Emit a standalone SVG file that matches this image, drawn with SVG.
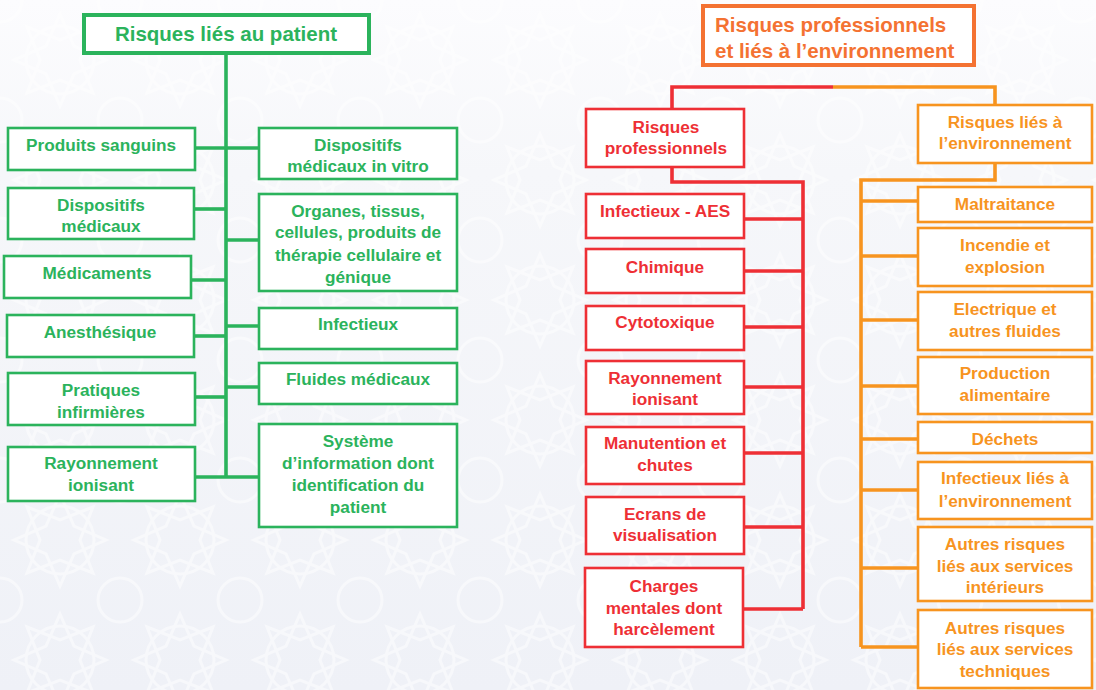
<svg xmlns="http://www.w3.org/2000/svg" width="1096" height="690" viewBox="0 0 1096 690">
<defs>
<linearGradient id="bg" x1="0" y1="0" x2="0" y2="1">
<stop offset="0" stop-color="#fcfcfe"/>
<stop offset="0.25" stop-color="#f6f7fa"/>
<stop offset="1" stop-color="#eff1f7"/>
</linearGradient>
<pattern id="geo" width="120" height="120" patternUnits="userSpaceOnUse">
<g fill="none" stroke="#ffffff" stroke-width="3" opacity="0.8">
<circle cx="60" cy="60" r="34"/>
<path d="M60 14 L74 46 L106 60 L74 74 L60 106 L46 74 L14 60 L46 46 Z"/>
<path d="M27 27 L60 40 L93 27 L80 60 L93 93 L60 80 L27 93 L40 60 Z"/>
<circle cx="0" cy="0" r="22"/><circle cx="120" cy="0" r="22"/><circle cx="0" cy="120" r="22"/><circle cx="120" cy="120" r="22"/>
</g>
</pattern>
<style>
.t{font-family:"Liberation Sans",Arial,sans-serif;font-weight:bold;font-size:17.2px;text-anchor:middle}
.g{fill:#2bb35c}.r{fill:#ee2f35}.o{fill:#f7941f}
.bg{fill:#ffffff;stroke:#2bb35c;stroke-width:2.6}
.br{fill:#ffffff;stroke:#ee2f35;stroke-width:2.6}
.bo{fill:#ffffff;stroke:#f7941f;stroke-width:2.6}
.cg{stroke:#2bb35c;stroke-width:3.6;fill:none}
.cr{stroke:#ee2f35;stroke-width:3.6;fill:none}
.co{stroke:#f7941f;stroke-width:3.6;fill:none}
</style>
</defs>
<rect x="0" y="0" width="1096" height="690" fill="url(#bg)"/>
<rect x="0" y="0" width="1096" height="690" fill="url(#geo)" opacity="0.6"/>

<g id="connectors">
<path class="cg" d="M226 54 V478"/>
<path class="cg" d="M195 148 H259"/>
<path class="cg" d="M194 209 H226"/>
<path class="cg" d="M226 240 H259"/>
<path class="cg" d="M191 280 H226"/>
<path class="cg" d="M194 336 H226"/>
<path class="cg" d="M226 326 H259"/>
<path class="cg" d="M195 397 H226"/>
<path class="cg" d="M226 387 H259"/>
<path class="cg" d="M195 477 H259"/>

<path class="cr" d="M833 87 H672 V109"/>
<path class="co" d="M833 87 H995 V105"/>
<path class="cr" d="M672 167 V182 H803 V609"/>
<path class="cr" d="M744 219 H803"/>
<path class="cr" d="M744 271 H803"/>
<path class="cr" d="M744 327 H803"/>
<path class="cr" d="M744 387 H803"/>
<path class="cr" d="M744 453 H803"/>
<path class="cr" d="M744 527 H803"/>
<path class="cr" d="M743 609 H803"/>

<path class="co" d="M995 163 V180 H861 V647"/>
<path class="co" d="M861 201 H917"/>
<path class="co" d="M861 256 H917"/>
<path class="co" d="M861 320 H917"/>
<path class="co" d="M861 386 H917"/>
<path class="co" d="M861 439 H917"/>
<path class="co" d="M861 490 H917"/>
<path class="co" d="M861 568 H917"/>
<path class="co" d="M861 647 H917"/>
</g>

<g id="title-patient">
<rect x="84" y="15" width="285" height="38" fill="#ffffff" stroke="#2bb35c" stroke-width="4"/>
<text class="t g" x="226" y="41" style="font-size:20.5px">Risques liés au patient</text>
</g>
<g id="produits-sanguins"><rect class="bg" x="8" y="128" width="187" height="42"/><text class="t g" x="101" y="151">Produits sanguins</text></g>
<g id="dispositifs-medicaux"><rect class="bg" x="8" y="188" width="186" height="51"/><text class="t g" x="101" y="211">Dispositifs</text><text class="t g" x="101" y="232">médicaux</text></g>
<g id="medicaments"><rect class="bg" x="4" y="256" width="187" height="42"/><text class="t g" x="97" y="279">Médicaments</text></g>
<g id="anesthesique"><rect class="bg" x="7" y="315" width="187" height="42"/><text class="t g" x="100" y="338">Anesthésique</text></g>
<g id="pratiques"><rect class="bg" x="8" y="373" width="187" height="52"/><text class="t g" x="101" y="396">Pratiques</text><text class="t g" x="101" y="418">infirmières</text></g>
<g id="rayonnement-patient"><rect class="bg" x="8" y="447" width="187" height="54"/><text class="t g" x="101" y="469">Rayonnement</text><text class="t g" x="101" y="491">ionisant</text></g>
<g id="dispositifs-in-vitro"><rect class="bg" x="259" y="128" width="198" height="51"/><text class="t g" x="358" y="151">Dispositifs</text><text class="t g" x="358" y="172">médicaux in vitro</text></g>
<g id="organes"><rect class="bg" x="259" y="194" width="198" height="97"/><text class="t g" x="358" y="217">Organes, tissus,</text><text class="t g" x="358" y="238">cellules, produits de</text><text class="t g" x="358" y="261">thérapie cellulaire et</text><text class="t g" x="358" y="283">génique</text></g>
<g id="infectieux-patient"><rect class="bg" x="259" y="308" width="198" height="41"/><text class="t g" x="358" y="330">Infectieux</text></g>
<g id="fluides"><rect class="bg" x="259" y="363" width="198" height="41"/><text class="t g" x="358" y="385">Fluides médicaux</text></g>
<g id="systeme"><rect class="bg" x="259" y="424" width="198" height="103"/><text class="t g" x="358" y="447">Système</text><text class="t g" x="358" y="469">d’information dont</text><text class="t g" x="358" y="491">identification du</text><text class="t g" x="358" y="513">patient</text></g>

<g id="title-pro">
<rect x="703" y="6" width="271" height="59" fill="#ffffff" stroke="#f47232" stroke-width="4"/>
<text x="715" y="32" style="font-family:'Liberation Sans',Arial,sans-serif;font-weight:bold;font-size:20.5px;fill:#f47232">Risques professionnels</text>
<text x="715" y="58" style="font-family:'Liberation Sans',Arial,sans-serif;font-weight:bold;font-size:20.5px;fill:#f47232">et liés à l’environnement</text>
</g>
<g id="risques-pro"><rect class="br" x="586" y="109" width="158" height="58"/><text class="t r" x="666" y="133">Risques</text><text class="t r" x="666" y="154">professionnels</text></g>
<g id="infectieux-aes"><rect class="br" x="586" y="194" width="158" height="44"/><text class="t r" x="665" y="217">Infectieux - AES</text></g>
<g id="chimique"><rect class="br" x="586" y="249" width="158" height="44"/><text class="t r" x="665" y="273">Chimique</text></g>
<g id="cytotoxique"><rect class="br" x="586" y="306" width="158" height="44"/><text class="t r" x="665" y="328">Cytotoxique</text></g>
<g id="rayonnement-pro"><rect class="br" x="586" y="361" width="158" height="53"/><text class="t r" x="665" y="384">Rayonnement</text><text class="t r" x="665" y="405">ionisant</text></g>
<g id="manutention"><rect class="br" x="586" y="427" width="158" height="57"/><text class="t r" x="665" y="449">Manutention et</text><text class="t r" x="665" y="471">chutes</text></g>
<g id="ecrans"><rect class="br" x="586" y="497" width="158" height="57"/><text class="t r" x="665" y="520">Ecrans de</text><text class="t r" x="665" y="541">visualisation</text></g>
<g id="charges"><rect class="br" x="585" y="568" width="158" height="79"/><text class="t r" x="664" y="592">Charges</text><text class="t r" x="664" y="614">mentales dont</text><text class="t r" x="664" y="635">harcèlement</text></g>

<g id="risques-env"><rect class="bo" x="918" y="105" width="174" height="58"/><text class="t o" x="1005" y="128">Risques liés à</text><text class="t o" x="1005" y="149">l’environnement</text></g>
<g id="maltraitance"><rect class="bo" x="918" y="187" width="174" height="35"/><text class="t o" x="1005" y="210">Maltraitance</text></g>
<g id="incendie"><rect class="bo" x="918" y="228" width="174" height="58"/><text class="t o" x="1005" y="251">Incendie et</text><text class="t o" x="1005" y="273">explosion</text></g>
<g id="electrique"><rect class="bo" x="918" y="292" width="174" height="58"/><text class="t o" x="1005" y="315">Electrique et</text><text class="t o" x="1005" y="337">autres fluides</text></g>
<g id="production"><rect class="bo" x="918" y="357" width="174" height="57"/><text class="t o" x="1005" y="379">Production</text><text class="t o" x="1005" y="401">alimentaire</text></g>
<g id="dechets"><rect class="bo" x="918" y="422" width="174" height="31"/><text class="t o" x="1005" y="445">Déchets</text></g>
<g id="infectieux-env"><rect class="bo" x="918" y="462" width="174" height="57"/><text class="t o" x="1005" y="484">Infectieux liés à</text><text class="t o" x="1005" y="507">l’environnement</text></g>
<g id="services-interieurs"><rect class="bo" x="918" y="527" width="174" height="74"/><text class="t o" x="1005" y="550">Autres risques</text><text class="t o" x="1005" y="572">liés aux services</text><text class="t o" x="1005" y="593">intérieurs</text></g>
<g id="services-techniques"><rect class="bo" x="918" y="610" width="174" height="78"/><text class="t o" x="1005" y="634">Autres risques</text><text class="t o" x="1005" y="655">liés aux services</text><text class="t o" x="1005" y="677">techniques</text></g>
</svg>
